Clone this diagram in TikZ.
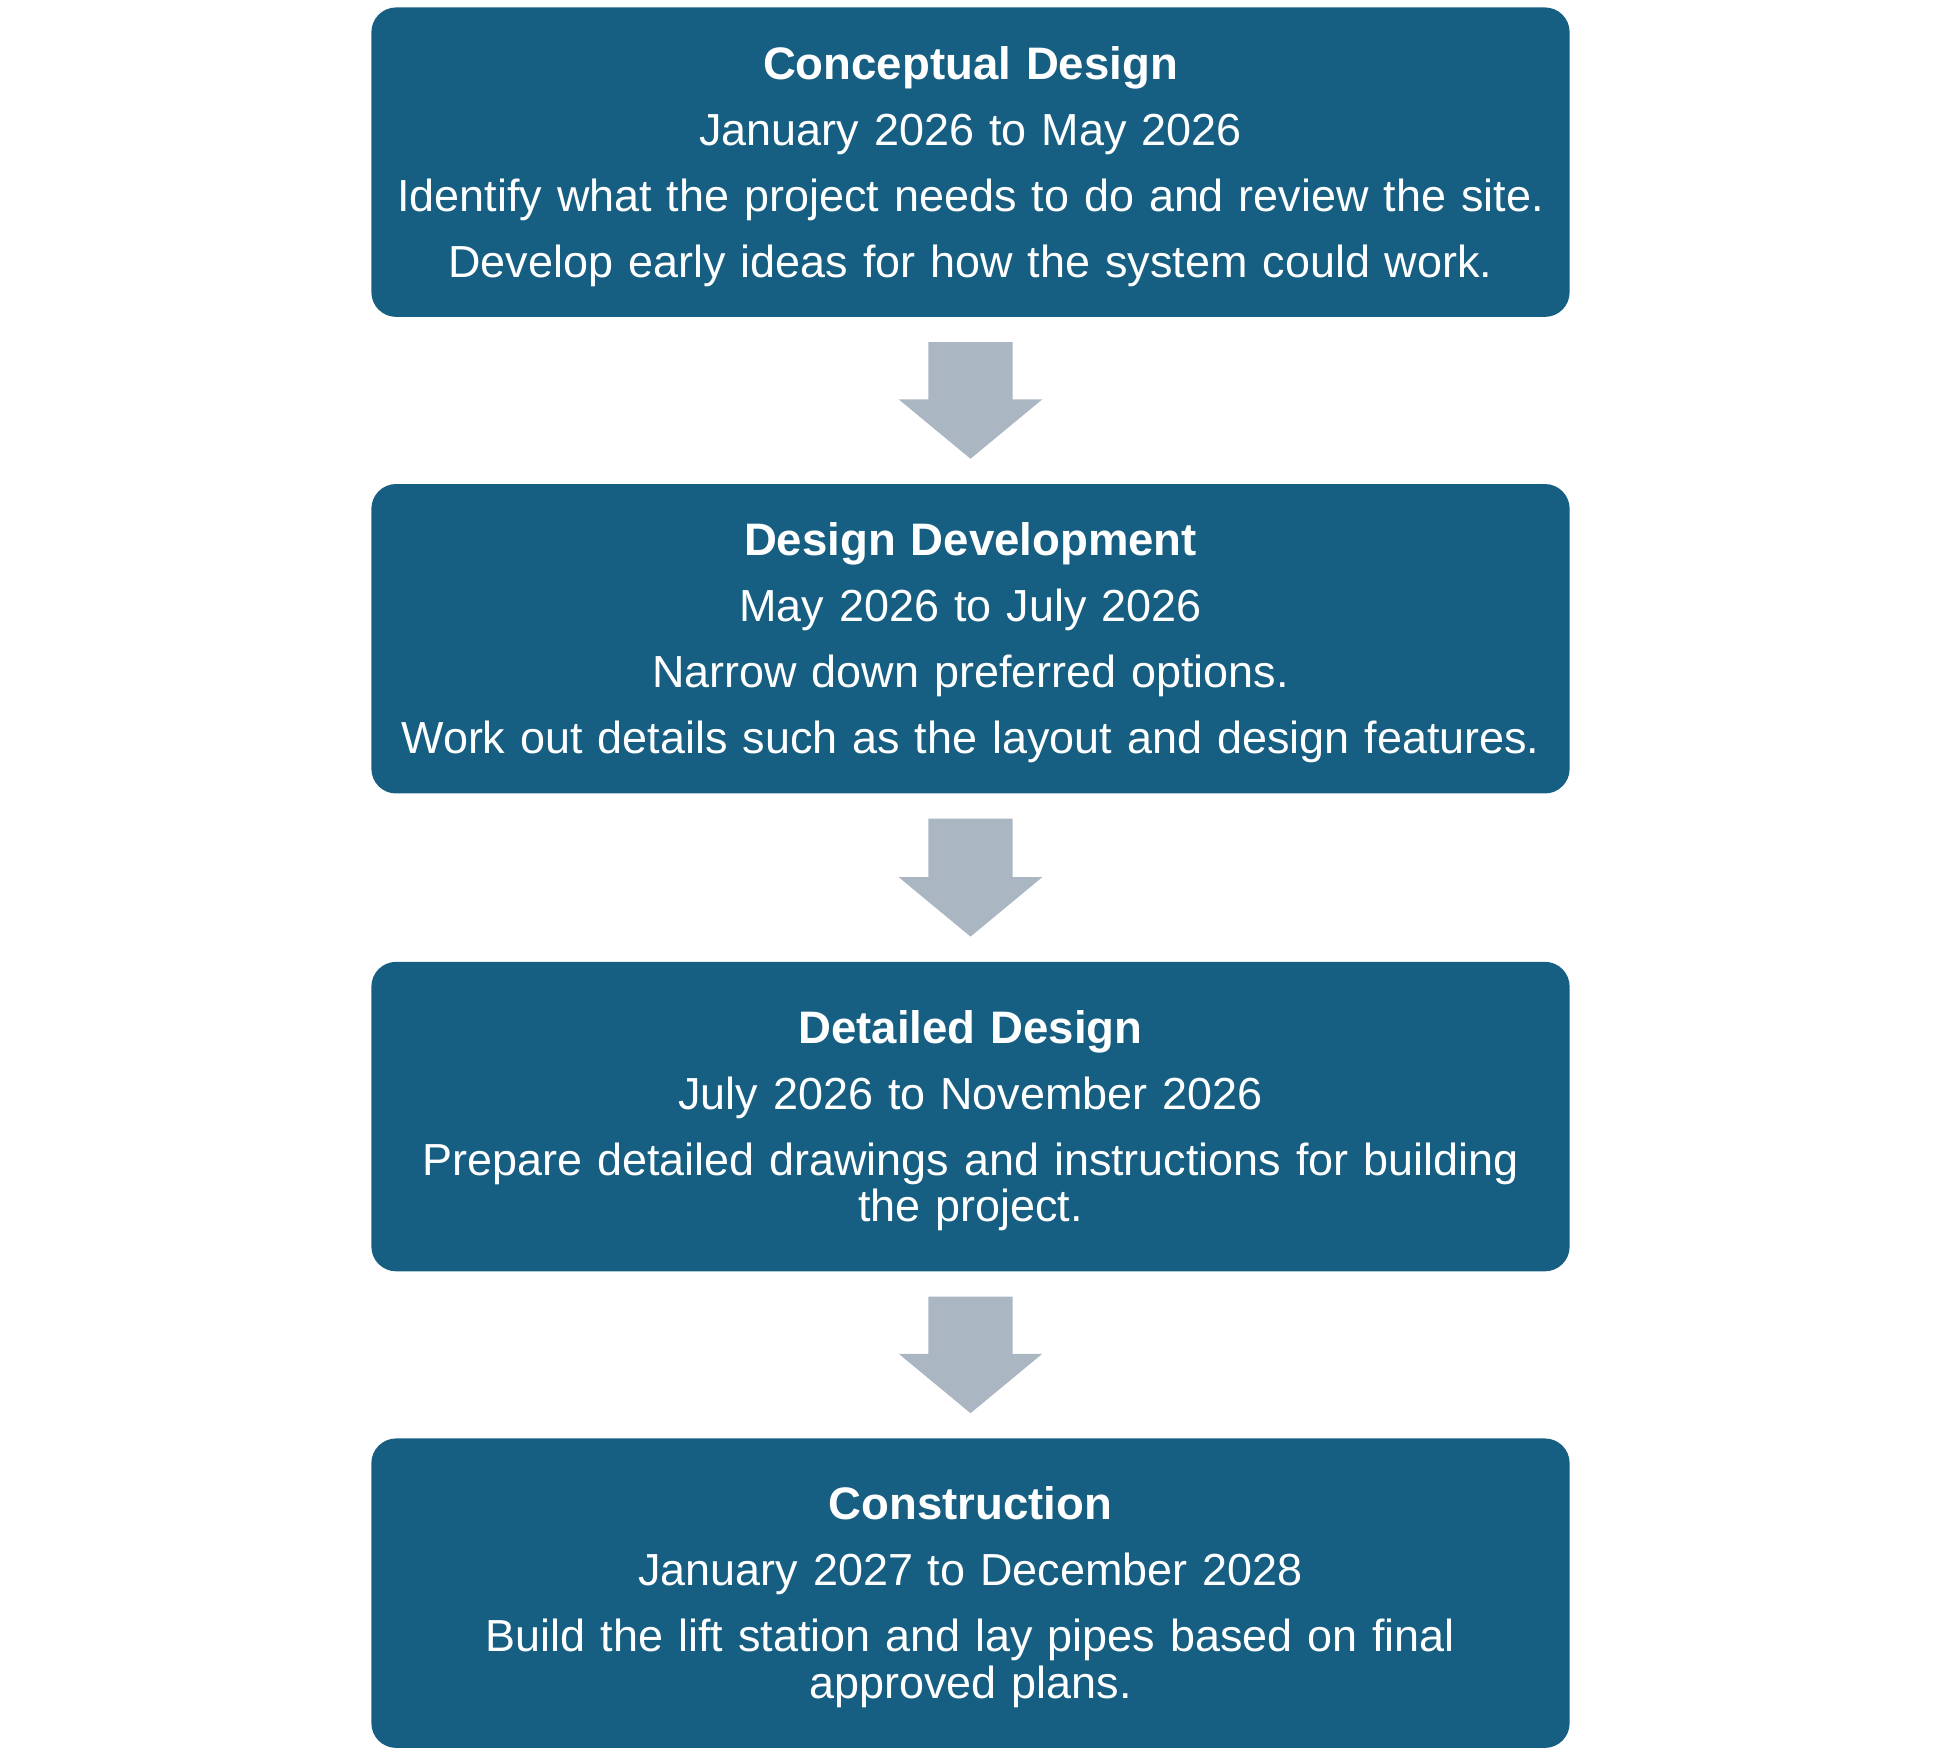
\documentclass[tikz,border=0pt]{standalone}
\usepackage{fontspec}
\setmainfont{Liberation Sans}
\usetikzlibrary{calc}
\definecolor{boxblue}{HTML}{175F82}
\definecolor{arrowgray}{HTML}{AAB6C2}
\newcommand{\stagetitle}[1]{\rule{0pt}{16.6pt}{\fontsize{18.4pt}{19pt}\selectfont\bfseries #1}}
\begin{document}
\begin{tikzpicture}[x=0.5pt,y=-0.5pt,
  stage/.style={fill=boxblue, draw=none, rounded corners=10pt,
    minimum width=484pt, minimum height=125pt, text width=476pt,
    align=center, text=white, inner sep=0pt,
    font=\fontsize{18.15pt}{18.8pt}\selectfont},
  blockarrow/.style={fill=arrowgray, draw=none}]
\useasboundingbox (0,0) rectangle (1568,1419);
\node[stage] (b1) at (784,131) {\stagetitle{Conceptual Design}\\[7.85pt]
  January 2026 to May 2026\\[7.85pt]
  Identify what the project needs to do and review the site.\\[7.85pt]
  Develop early ideas for how the system could work.};
\node[stage] (b2) at (784,516) {\stagetitle{Design Development}\\[7.85pt]
  May 2026 to July 2026\\[7.85pt]
  Narrow down preferred options.\\[7.85pt]
  Work out details such as the layout and design features.};
\node[stage] (b3) at (784,902) {\stagetitle{Detailed Design}\\[7.85pt]
  July 2026 to November 2026\\[7.85pt]
  Prepare detailed drawings and instructions for building\\
  the project.};
\node[stage] (b4) at (784,1287) {\stagetitle{Construction}\\[7.85pt]
  January 2027 to December 2028\\[7.85pt]
  Build the lift station and lay pipes based on final\\
  approved plans.};
\foreach \a/\b in {b1/b2,b2/b3,b3/b4}{
  \fill[blockarrow] ($(\a.south)+(-34,20)$) -- ($(\a.south)+(34,20)$)
    -- ($(\b.north)+(34,-68)$) -- ($(\b.north)+(58,-68)$)
    -- ($(\b.north)+(0,-20)$) -- ($(\b.north)+(-58,-68)$)
    -- ($(\b.north)+(-34,-68)$) -- cycle;
}
\end{tikzpicture}
\end{document}
